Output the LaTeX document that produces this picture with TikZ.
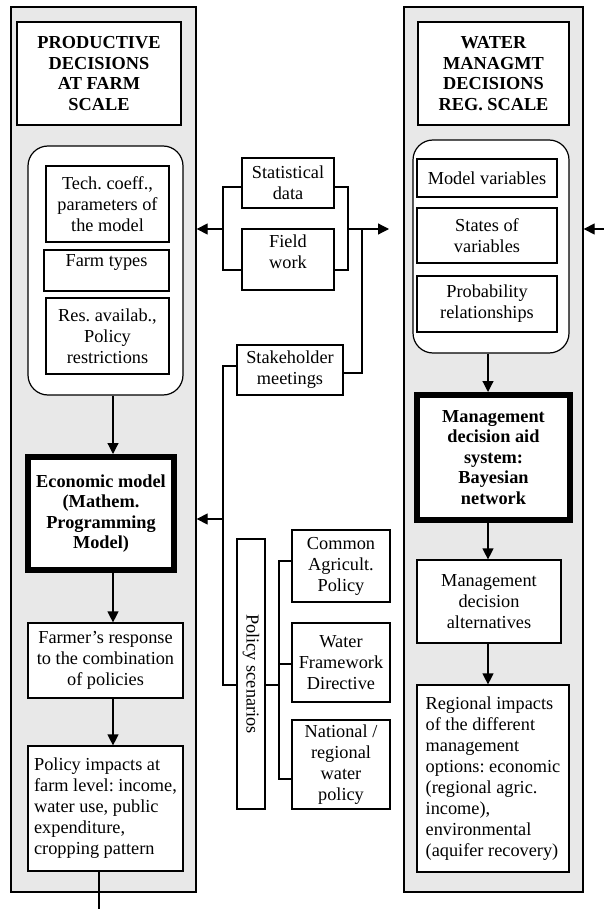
\documentclass[tikz,border=0pt]{standalone}
\usepackage{fontspec}
\setmainfont{Liberation Serif}
\usetikzlibrary{arrows.meta}
\frenchspacing
\newcommand\fsz{\fontsize{18.3}{21}\selectfont\frenchspacing}
\newcommand\fszb{\fontsize{18.3}{20.5}\selectfont\bfseries\frenchspacing}
\definecolor{panelgray}{RGB}{232,232,232}
\begin{document}
\begin{tikzpicture}[x=1pt,y=-1pt,
  sz/.style 2 args={minimum width=#1pt, minimum height=#2pt},
  panel/.style={draw, line width=1.3pt, fill=panelgray, inner sep=0pt},
  box/.style={draw, line width=1.2pt, fill=white, align=center, inner sep=2pt, font=\fsz},
  titlebox/.style={box, font=\fszb},
  boldbox/.style={box, font=\fszb, line width=6pt},
  cont/.style={draw, line width=1.2pt, fill=white, rounded corners=20pt, inner sep=0pt},
  ln/.style={line width=1.2pt},
  arr/.style={line width=1.2pt, -{Triangle[length=11pt,width=11pt]}}
]
\useasboundingbox (0,0) rectangle (604,909);
% panels
\node[panel, sz={185}{885}] (lpanel) at (103.5,449.5) {};
\node[panel, sz={179}{885}] (rpanel) at (493.5,449.5) {};
% left column
\node[titlebox, sz={164}{103}] (ltitle) at (99,73.5) {PRODUCTIVE\\DECISIONS\\AT FARM\\SCALE};
\node[cont, sz={155}{249}] (lcont) at (105.5,270.5) {};
\node[box, sz={123}{76}] (tech) at (107.5,204) {Tech. coeff.,\\parameters of\\the model};
\node[box, sz={125}{41}, text depth=19pt] (farm) at (106.5,270.5) {Farm types};
\node[box, sz={123}{76}] (res) at (107.5,336) {Res. availab.,\\Policy\\restrictions};
\node[boldbox, sz={146}{113}] (econ) at (101,513.5) {Economic model\\(Mathem.\\Programming\\Model)};
\node[box, sz={155}{75}] (farmer) at (105.5,660.5) {Farmer’s response\\to the combination\\of policies};
\node[box, sz={155}{125}, align=left] (impacts) at (105.5,808.5) {Policy impacts at\\farm level: income,\\water use, public\\expenditure,\\cropping pattern};
% middle
\node[box, sz={92}{50}] (stat) at (288,183) {Statistical\\data};
\node[box, sz={92}{61}, text depth=16pt] (field) at (288,259.5) {Field\\work};
\node[box, sz={106}{50}] (stake) at (290,370) {Stakeholder\\meetings};
\node[box, sz={270}{28}, rotate=-90] (policy) at (251,674) {Policy scenarios};
\node[box, sz={98}{72}] (cap) at (341,566) {Common\\Agricult.\\Policy};
\node[box, sz={98}{79}] (wfd) at (341,662.5) {Water\\Framework\\Directive};
\node[box, sz={98}{89}] (nat) at (341,764.5) {National /\\regional\\water\\policy};
% right column
\node[titlebox, sz={151}{103}] (rtitle) at (493.5,73.5) {WATER\\MANAGMT\\DECISIONS\\REG. SCALE};
\node[cont, sz={156}{213}] (rcont) at (491,246.5) {};
\node[box, sz={140}{38}] (mvar) at (487,178) {Model variables};
\node[box, sz={140}{55}] (states) at (487,235.5) {States of\\variables};
\node[box, sz={140}{56}] (prob) at (487,304) {Probability\\relationships};
\node[boldbox, sz={153}{125}] (bayes) at (493.5,457.5) {Management\\decision aid\\system:\\Bayesian\\network};
\node[box, sz={144}{83}] (alt) at (489,601.5) {Management\\decision\\alternatives};
\node[box, sz={152}{187}, align=left] (regional) at (493,778.5) {Regional impacts\\of the different\\management\\options: economic\\(regional agric.\\income),\\environmental\\(aquifer recovery)};
% coordinates
\coordinate (colL) at (113,0);
\coordinate (colR) at (488,0);
\coordinate (botL) at (99,909);
\coordinate (jl) at (223,229);
\coordinate (jr) at (348,229);
\coordinate (js) at (362,229);
\coordinate (rtip) at (389,229);
\coordinate (rin) at (604,229);
\coordinate (pl) at (223,685);
\coordinate (pa) at (223,519);
\coordinate (pr) at (279,685);
\coordinate (b1) at (279,561);
\coordinate (b2) at (279,664);
\coordinate (b3) at (279,779);
% column arrows
\draw[arr] (lcont.south -| colL) -- (econ.north -| colL);
\draw[arr] (econ.south -| colL) -- (farmer.north -| colL);
\draw[arr] (farmer.south -| colL) -- (impacts.north -| colL);
\draw[ln] (impacts.south -| botL) -- (botL);
\draw[arr] (rcont.south -| colR) -- (bayes.north -| colR);
\draw[arr] (bayes.south -| colR) -- (alt.north -| colR);
\draw[arr] (alt.south -| colR) -- (regional.north -| colR);
\draw[arr] (rin) -- (rpanel.east |- rin);
% data brackets
\draw[ln] (stat.west |- 0,187) -| (jl) |- (field.west |- 0,270);
\draw[arr] (jl) -- (lpanel.east |- jl);
\draw[ln] (stat.east |- 0,187) -| (jr) |- (field.east |- 0,270);
\draw[arr] (jr) -- (rtip);
\draw[ln] (stake.east |- 0,373) -| (js);
% stakeholder / policy
\draw[ln] (stake.west |- 0,366) -| (pl) -- (policy.south |- pl);
\draw[arr] (pa) -- (lpanel.east |- pa);
\draw[ln] (policy.north |- pr) -- (pr);
\draw[ln] (cap.west |- b1) -- (b1) -- (b3) -- (nat.west |- b3);
\draw[ln] (wfd.west |- b2) -- (b2);
\end{tikzpicture}
\end{document}
